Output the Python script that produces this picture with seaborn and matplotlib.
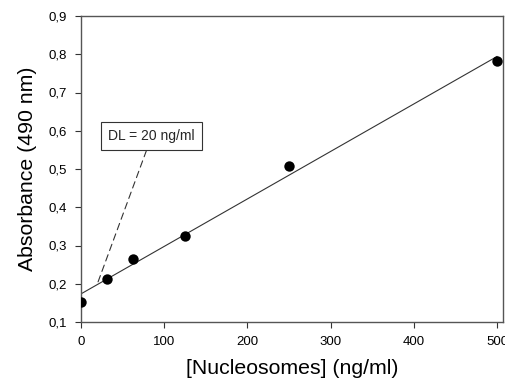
import numpy as np
import pandas as pd
import seaborn as sns
import matplotlib
matplotlib.use("Agg")
import matplotlib.pyplot as plt
from matplotlib.ticker import FuncFormatter

concentration = [0, 31.25, 62.5, 125, 250, 500]
absorbance = [0.152, 0.213, 0.265, 0.325, 0.507, 0.782]
x_ticks = [0, 100, 200, 300, 400, 500]
y_ticks = [0.1, 0.2, 0.3, 0.4, 0.5, 0.6, 0.7, 0.8, 0.9]
dl_text = "DL = 20 ng/ml"
dl_point = (20, 0.202)
dl_label_pos = (85, 0.586)

sns.set_theme(style="ticks")
plt.rcParams["font.family"] = ["Liberation Sans", "DejaVu Sans"]

df = pd.DataFrame({"conc": concentration, "abs": absorbance})

fig = plt.figure(figsize=(5.05, 3.85), dpi=100)
ax = fig.add_axes([81/505, 1-322/385, (503-81)/505, (322-16)/385])

sns.regplot(data=df, x="conc", y="abs", ax=ax, ci=None, truncate=True,
            scatter_kws=dict(s=56, color="black", edgecolor="black", linewidths=0,
                             alpha=1, zorder=3),
            line_kws=dict(color="#333333", lw=0.8))

ax.set_xlim(0, 507)
ax.set_ylim(0.1, 0.9)
ax.set_xticks(x_ticks)
ax.set_yticks(y_ticks)
ax.yaxis.set_major_formatter(FuncFormatter(lambda v, p: f"{v:.1f}".replace(".", ",")))
ax.tick_params(axis="both", direction="out", length=4, width=0.8, color="#333333",
               labelsize=9.5, labelcolor="black", pad=6)
for s in ax.spines.values():
    s.set_visible(True)
    s.set_color("#555555")
    s.set_linewidth(1.0)

ax.set_xlabel("[Nucleosomes] (ng/ml)", fontsize=15.3, color="black", labelpad=8)
ax.set_ylabel("Absorbance (490 nm)", fontsize=15.3, color="black", labelpad=8)

ax.annotate(dl_text, xy=dl_point, xytext=dl_label_pos, fontsize=10,
            ha="center", va="center",
            bbox=dict(boxstyle="square,pad=0.5", fc="white", ec="#333333", lw=0.8),
            arrowprops=dict(arrowstyle="-", linestyle=(0, (6, 4)), color="#333333", lw=0.8,
                            shrinkA=0, shrinkB=0))

fig.savefig("out.png", dpi=100)
